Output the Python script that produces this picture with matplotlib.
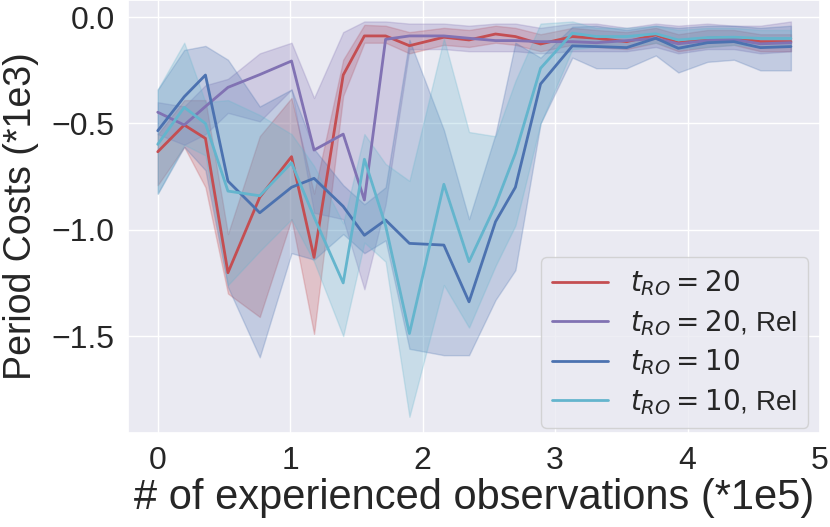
import matplotlib
matplotlib.use("Agg")
import matplotlib.pyplot as plt
import seaborn as sns
import numpy as np

sns.set_theme(style="darkgrid")
plt.rcParams['font.family'] = ['Liberation Sans', 'DejaVu Sans']

x = [0, 0.20, 0.36, 0.53, 0.77, 1.01, 1.18, 1.40, 1.56, 1.72, 1.90, 2.16, 2.35,
     2.55, 2.70, 2.89, 3.13, 3.31, 3.54, 3.76, 3.93, 4.15, 4.35, 4.55, 4.78]

red_mean = [-0.633, -0.507, -0.57, -1.202, -0.847, -0.656, -1.13, -0.272, -0.088, -0.088,
            -0.134, -0.094, -0.107, -0.079, -0.091, -0.126, -0.091, -0.099, -0.115, -0.083,
            -0.12, -0.099, -0.096, -0.115, -0.115]
red_lo = [-0.79, -0.61, -0.80, -1.30, -1.41, -0.95, -1.49, -0.37, -0.12, -0.12, -0.17, -0.13,
          -0.14, -0.12, -0.13, -0.16, -0.13, -0.14, -0.15, -0.12, -0.16, -0.14, -0.13, -0.16, -0.16]
red_hi = [-0.55, -0.39, -0.39, -1.02, -0.56, -0.38, -0.83, -0.20, -0.036, -0.04, -0.07, -0.05,
          -0.06, -0.04, -0.05, -0.08, -0.05, -0.06, -0.07, -0.05, -0.08, -0.06, -0.06, -0.08, -0.08]

purple_mean = [-0.447, -0.507, -0.42, -0.33, -0.27, -0.206, -0.625, -0.55, -0.86, -0.104,
               -0.088, -0.088, -0.099, -0.11, -0.11, -0.115, -0.115, -0.12, -0.11, -0.10,
               -0.125, -0.11, -0.105, -0.125, -0.12]
purple_lo = [-0.55, -0.60, -0.55, -0.45, -0.49, -0.34, -0.92, -0.95, -1.28, -0.88, -0.15, -0.15,
             -0.16, -0.16, -0.16, -0.17, -0.16, -0.16, -0.16, -0.14, -0.17, -0.15, -0.15, -0.17, -0.16]
purple_hi = [-0.40, -0.42, -0.32, -0.29, -0.17, -0.12, -0.38, -0.07, -0.02, -0.02, -0.03, -0.03,
             -0.04, -0.03, -0.03, -0.05, -0.03, -0.03, -0.05, -0.03, -0.04, -0.03, -0.04, -0.04, -0.02]

blue_mean = [-0.534, -0.374, -0.272, -0.771, -0.92, -0.80, -0.758, -0.89, -1.026, -0.954,
             -1.064, -1.072, -1.339, -0.962, -0.80, -0.314, -0.135, -0.138, -0.143, -0.099,
             -0.146, -0.12, -0.115, -0.143, -0.138]
blue_lo = [-0.83, -0.61, -0.72, -1.27, -1.60, -1.11, -1.14, -1.02, -1.11, -1.05, -1.56, -1.59,
           -1.59, -1.33, -1.19, -0.50, -0.19, -0.24, -0.24, -0.18, -0.26, -0.21, -0.20, -0.25, -0.25]
blue_hi = [-0.34, -0.154, -0.135, -0.20, -0.42, -0.34, -0.62, -0.79, -0.88, -0.80, -0.107, -0.53,
           -0.95, -0.55, -0.12, -0.19, -0.045, -0.04, -0.06, -0.04, -0.05, -0.04, -0.04, -0.05, -0.04]

cyan_mean = [-0.598, -0.424, -0.5, -0.818, -0.84, -0.685, -0.94, -1.25, -0.668, -0.98,
             -1.488, -0.786, -1.15, -0.884, -0.64, -0.24, -0.075, -0.091, -0.091, -0.078,
             -0.107, -0.096, -0.094, -0.10, -0.10]
cyan_lo = [-0.83, -0.60, -0.65, -1.26, -1.10, -0.95, -1.15, -1.50, -1.06, -1.15, -1.88, -1.26,
           -1.46, -1.17, -0.98, -0.50, -0.15, -0.14, -0.14, -0.12, -0.15, -0.14, -0.13, -0.14, -0.14]
cyan_hi = [-0.34, -0.12, -0.40, -0.39, -0.46, -0.55, -0.70, -0.97, -0.55, -0.69, -0.77, -0.10,
           -0.54, -0.56, -0.30, -0.03, -0.02, -0.05, -0.05, -0.04, -0.06, -0.05, -0.05, -0.06, -0.06]

labels = [r"$t_{RO} = 20$", r"$t_{RO} = 20$, Rel", r"$t_{RO} = 10$", r"$t_{RO} = 10$, Rel"]
deep = sns.color_palette("deep")
colors = [deep[3], deep[4], deep[0], deep[9]]

series = [(red_mean, red_lo, red_hi), (purple_mean, purple_lo, purple_hi),
          (blue_mean, blue_lo, blue_hi), (cyan_mean, cyan_lo, cyan_hi)]

fig = plt.figure(figsize=(8.3, 5.27), dpi=100)
ax = fig.add_axes([0.154, 0.178, 0.834, 0.822])

for (m, lo, hi), c, lab in zip(series, colors, labels):
    ax.fill_between(x, lo, hi, color=c, alpha=0.25, linewidth=1)
    ax.plot(x, m, color=c, lw=2, label=lab)

ax.set_xlim(-0.226, 5.0)
ax.set_ylim(-1.957, 0.081)
ax.set_xticks([0, 1, 2, 3, 4, 5])
ax.set_yticks([0.0, -0.5, -1.0, -1.5])
ax.tick_params(labelsize=23)
ax.set_xlabel("# of experienced observations (*1e5)", fontsize=30, labelpad=1)
ax.set_ylabel("Period Costs (*1e3)", fontsize=27, labelpad=9)
ax.legend(loc="lower right", bbox_to_anchor=(0.983, 0.012), borderaxespad=0,
          fontsize=20, labelspacing=0.35)

fig.savefig("out.png", dpi=100)
